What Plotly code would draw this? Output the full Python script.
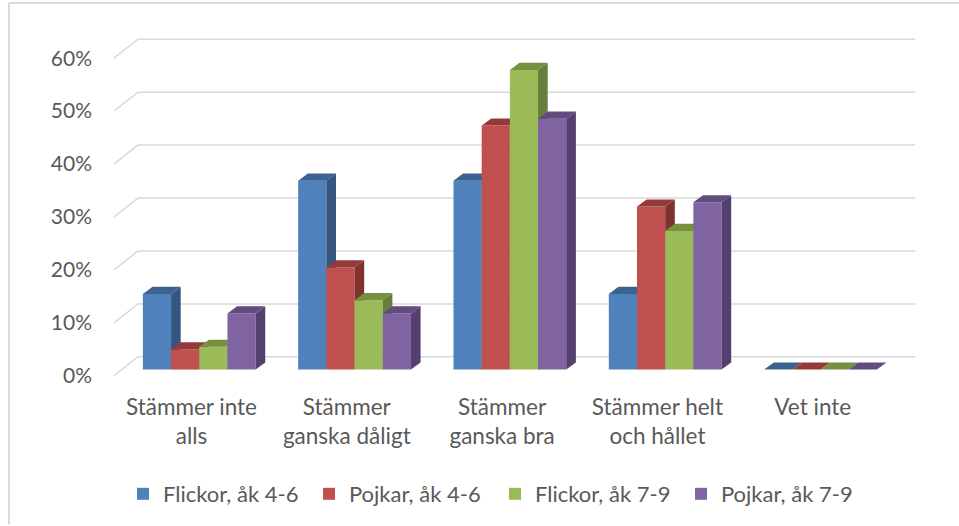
import plotly.graph_objects as go

categories = ["Stämmer inte<br>alls", "Stämmer<br>ganska dåligt", "Stämmer<br>ganska bra", "Stämmer helt<br>och hållet", "Vet inte"]
series_names = ["Flickor, åk 4-6", "Pojkar, åk 4-6", "Flickor, åk 7-9", "Pojkar, åk 7-9"]
flickor_46 = [14.3, 35.7, 35.7, 14.3, 0]
pojkar_46 = [3.8, 19.3, 46.1, 30.8, 0]
flickor_79 = [4.3, 13.1, 56.6, 26.2, 0]
pojkar_79 = [10.6, 10.6, 47.4, 31.6, 0]
y_ticks = [0, 10, 20, 30, 40, 50, 60]
y_labels = ["0%", "10%", "20%", "30%", "40%", "50%", "60%"]

front = ["#4F81BD", "#C0504D", "#9BBB59", "#8064A2"]
side = ["#35567F", "#80322F", "#677D3B", "#54406F"]
top = ["#3C6290", "#943B39", "#76903F", "#614B7F"]
values = [flickor_46, pojkar_46, flickor_79, pojkar_79]

FONT = "Lato"
TXT = "#595959"
XR = [-0.639, 4.705]
YR = [-4.05, 66.05]
W = 0.1815
DX, DY = 0.062, 1.35
GX0, GX1, GX2 = -0.549, -0.395, 4.61
GB, GF = 2.41, -1.17

fig = go.Figure()

gx, gy = [], []
for t in y_ticks:
    gx += [GX0, GX1, GX2, None]
    gy += [t + GF, t + GB, t + GB, None]
fig.add_trace(go.Scatter(x=gx, y=gy, mode="lines", line=dict(color="#D9D9D9", width=1.5),
                         showlegend=False, hoverinfo="skip"))

for s, vals in enumerate(values):
    ax = str(s + 2)
    xa, ya = "x" + ax, "y" + ax
    off = (s - 2) * W
    fig.add_trace(go.Bar(x=list(range(len(vals))), y=vals, width=W, offset=off, name=series_names[s],
                         marker=dict(color=front[s], line_width=0), xaxis=xa, yaxis=ya))
    sx, sy, tx, ty = [], [], [], []
    for i, v in enumerate(vals):
        xl = i + off
        xr = xl + W
        sx += [xr, xr + DX, xr + DX, xr, xr, None]
        sy += [0, DY, v + DY, v, 0, None]
        tx += [xl, xr, xr + DX, xl + DX, xl, None]
        ty += [v, v, v + DY, v + DY, v, None]
    fig.add_trace(go.Scatter(x=sx, y=sy, mode="lines", fill="toself", fillcolor=side[s], line_width=0,
                             showlegend=False, hoverinfo="skip", xaxis=xa, yaxis=ya))
    fig.add_trace(go.Scatter(x=tx, y=ty, mode="lines", fill="toself", fillcolor=top[s], line_width=0,
                             showlegend=False, hoverinfo="skip", xaxis=xa, yaxis=ya))

layout = dict(
    width=959, height=526, autosize=False, paper_bgcolor="white", plot_bgcolor="rgba(0,0,0,0)",
    margin=dict(l=100, r=29, t=20, b=134),
    font=dict(family=FONT, size=22, color=TXT),
    barmode="overlay",
    xaxis=dict(range=XR, tickmode="array", tickvals=[i - 0.05 for i in range(5)], ticktext=categories,
               showgrid=False, zeroline=False, showline=False, ticks="", tickfont=dict(size=22.5, color=TXT)),
    yaxis=dict(range=YR, tickmode="array", tickvals=[t + GF for t in y_ticks], ticktext=y_labels,
               showgrid=False, zeroline=False, showline=False, ticks="", ticklabelstandoff=7,
               tickfont=dict(size=21, color=TXT)),
    legend=dict(orientation="h", x=0.0277, xanchor="left", y=-0.2742, yanchor="middle", entrywidth=141,
                entrywidthmode="pixels", traceorder="normal", font=dict(size=22, color=TXT)),
    shapes=[
        dict(type="line", xref="paper", yref="paper", x0=-0.1096, x1=1.035, y0=1.0457, y1=1.0457,
             line=dict(color="#D9D9D9", width=2)),
        dict(type="line", xref="paper", yref="paper", x0=-0.1096, x1=-0.1096, y0=1.0457, y1=-0.36,
             line=dict(color="#D9D9D9", width=2)),
    ],
)
for s in range(4):
    ax = str(s + 2)
    layout["xaxis" + ax] = dict(range=XR, overlaying="x", visible=False)
    layout["yaxis" + ax] = dict(range=YR, overlaying="y", visible=False)
fig.update_layout(**layout)
fig.write_html("out.html", config={"displayModeBar": False}, post_script="document.body.style.margin='0';")
